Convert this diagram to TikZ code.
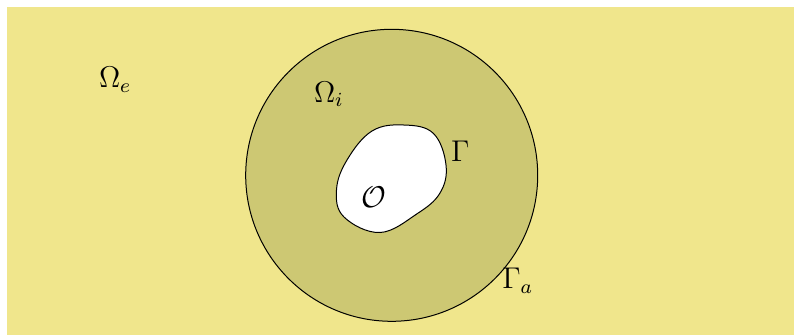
\documentclass[tikz,border=0pt]{standalone}
\definecolor{outerfill}{RGB}{240,230,140}
\definecolor{innerfill}{RGB}{205,200,115}
\tikzset{lbl/.style={anchor=base west,inner sep=0pt,outer sep=0pt,font=\fontsize{11.5}{14}\selectfont}}
\begin{document}
\begin{tikzpicture}[x=0.4pt,y=-0.4pt,line width=0.4pt]
\useasboundingbox (0,0) rectangle (794,335);
\fill[outerfill] (7,7) rectangle (794,335);
\filldraw[fill=innerfill,draw=black] (391.7,175.3) circle[radius=146];
\filldraw[fill=white,draw=black] plot[smooth cycle,tension=0.65] coordinates {
(404,125) (433.3,133.3) (446,165) (440,193)
(416.7,214) (380,232.5) (344,217)
(336.5,190) (347,160) (372,131)};
\node[lbl] (oe) at (99,87.7) {$\Omega_e$};
\node[lbl] (oi) at (314,102) {$\Omega_i$};
\node[lbl] (g) at (451,161) {$\Gamma$};
\node[lbl] (ga) at (502.3,288.7) {$\Gamma_a$};
\node[lbl] (o) at (361.5,207.3) {$\mathcal{O}$};
\end{tikzpicture}
\end{document}
